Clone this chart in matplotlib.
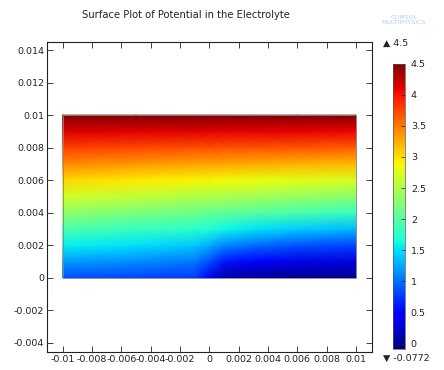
import numpy as np
import matplotlib.pyplot as plt

plt.rcParams['font.family'] = ['DejaVu Sans']
plt.rcParams['axes.unicode_minus'] = False

# electrolyte potential (V), one list per x position
x_pos = [-0.01, -0.005, -0.001, 0.0, 0.001, 0.003, 0.006, 0.01]
y_pos = [0.0, 0.001, 0.002, 0.003, 0.004, 0.005, 0.006, 0.007, 0.008, 0.009, 0.01]
pot_xm010 = [0.85, 1.20, 1.58, 1.95, 2.31, 2.68, 3.04, 3.41, 3.77, 4.14, 4.5]
pot_xm005 = [0.80, 1.13, 1.50, 1.85, 2.20, 2.59, 2.96, 3.35, 3.74, 4.12, 4.5]
pot_xm001 = [0.75, 1.04, 1.40, 1.78, 2.13, 2.51, 2.90, 3.30, 3.71, 4.11, 4.5]
pot_x000 = [0.40, 0.85, 1.28, 1.70, 2.08, 2.49, 2.88, 3.30, 3.70, 4.10, 4.5]
pot_x001 = [0.10, 0.60, 1.12, 1.62, 2.06, 2.47, 2.86, 3.28, 3.69, 4.10, 4.5]
pot_x003 = [0.03, 0.45, 0.98, 1.52, 2.01, 2.43, 2.82, 3.26, 3.68, 4.09, 4.5]
pot_x006 = [0.00, 0.35, 0.87, 1.42, 1.94, 2.37, 2.77, 3.22, 3.66, 4.08, 4.5]
pot_x010 = [0.00, 0.30, 0.80, 1.33, 1.85, 2.30, 2.72, 3.18, 3.63, 4.07, 4.5]
pot_min = -0.0772
pot_max = 4.5

xticks = [-0.01, -0.008, -0.006, -0.004, -0.002, 0, 0.002, 0.004, 0.006, 0.008, 0.01]
xtick_labels = ['-0.01', '-0.008', '-0.006', '-0.004', '-0.002', '0',
                '0.002', '0.004', '0.006', '0.008', '0.01']
yticks = [-0.004, -0.002, 0, 0.002, 0.004, 0.006, 0.008, 0.01, 0.012, 0.014]
ytick_labels = ['-0.004', '-0.002', '0', '0.002', '0.004', '0.006', '0.008',
                '0.01', '0.012', '0.014']
cticks = [0, 0.5, 1, 1.5, 2, 2.5, 3, 3.5, 4, 4.5]
ctick_labels = ['0', '0.5', '1', '1.5', '2', '2.5', '3', '3.5', '4', '4.5']

Z = np.array([pot_xm010, pot_xm005, pot_xm001, pot_x000, pot_x001,
              pot_x003, pot_x006, pot_x010]).T
X, Y = np.meshgrid(x_pos, y_pos)

fig = plt.figure(figsize=(4.44, 3.70), dpi=100)
ax = fig.add_axes([47 / 444, 18 / 370, 325 / 444, 310 / 370])
mesh = ax.pcolormesh(X, Y, Z, shading='gouraud', cmap='jet', vmin=pot_min, vmax=pot_max)
ax.plot([x_pos[0], x_pos[-1], x_pos[-1], x_pos[0], x_pos[0]],
        [y_pos[0], y_pos[0], y_pos[-1], y_pos[-1], y_pos[0]],
        color='#888888', lw=0.6, zorder=3)

ax.set_xlim(-0.01107, 0.01109)
ax.set_ylim(-0.00457, 0.0145)
ax.set_xticks(xticks)
ax.set_xticklabels(xtick_labels)
ax.set_yticks(yticks)
ax.set_yticklabels(ytick_labels)
ax.tick_params(direction='in', length=4, width=0.6, top=True, right=True,
               labelsize=6.8, colors='#222222', pad=2)
for s in ax.spines.values():
    s.set_linewidth(0.8)
    s.set_color('#222222')

cax = fig.add_axes([393 / 444, 21.5 / 370, 12.3 / 444, 285 / 370])
cb = fig.colorbar(mesh, cax=cax, ticks=cticks)
cb.set_ticklabels(ctick_labels)
cb.ax.tick_params(direction='in', length=3, width=0.5, labelsize=6.8,
                  colors='#222222', pad=4)
cb.outline.set_linewidth(0.5)
cb.outline.set_edgecolor('#555555')

fig.text(383 / 444, 1 - 43 / 370, '\u25b2 4.5', fontsize=6.8, color='#222222', va='center')
fig.text(383 / 444, 1 - 358 / 370, '\u25bc -0.0772', fontsize=6.8, color='#222222', va='center')

fig.text(186 / 444, 1 - 15 / 370, 'Surface Plot of Potential in the Electrolyte',
         fontsize=7.2, color='#222222', ha='center', va='center')
fig.text(404 / 444, 1 - 20 / 370, 'COMSOL\nMULTIPHYSICS', fontsize=4.5, color='#b8cfe6',
         ha='center', va='center', linespacing=0.9)

fig.savefig('out.png', dpi=100)
